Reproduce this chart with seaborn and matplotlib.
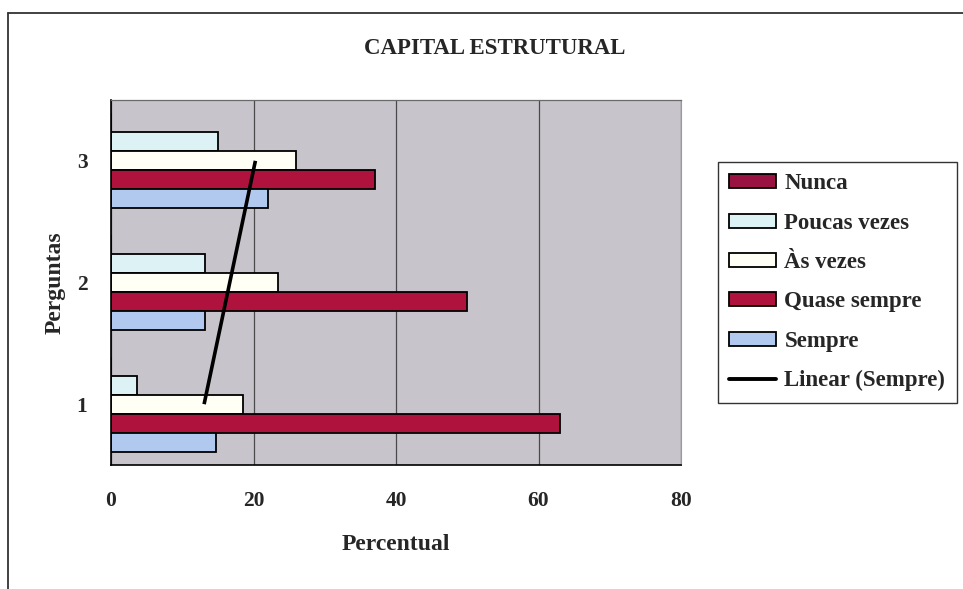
import numpy as np
import pandas as pd
import matplotlib
matplotlib.use("Agg")
import matplotlib.pyplot as plt
from matplotlib.patches import Patch
from matplotlib.lines import Line2D
import seaborn as sns

# Survey results (percent of answers) per question
perguntas = ["1", "2", "3"]
nunca = [0.0, 0.0, 0.0]
poucas_vezes = [3.7, 13.2, 15.0]
as_vezes = [18.5, 23.4, 26.0]
quase_sempre = [63.0, 50.0, 37.0]
sempre = [14.8, 13.2, 22.0]

respostas = ["Nunca", "Poucas vezes", "Às vezes", "Quase sempre", "Sempre"]
series = [nunca, poucas_vezes, as_vezes, quase_sempre, sempre]
cores = {
    "Nunca": "#9a1242",
    "Poucas vezes": "#dcf2f4",
    "Às vezes": "#fffff6",
    "Quase sempre": "#b0123e",
    "Sempre": "#b2c9ef",
}

rows = []
for nome, vals in zip(respostas, series):
    for p, v in zip(perguntas, vals):
        rows.append({"Pergunta": p, "Percentual": v, "Resposta": nome})
df = pd.DataFrame(rows)

sns.set_theme(style="white")
plt.rcParams["font.family"] = ["Liberation Serif", "DejaVu Serif"]
plt.rcParams["font.weight"] = "bold"

fig = plt.figure(figsize=(9.63, 5.89), dpi=100)
fig.patch.set_facecolor("white")
ax = fig.add_axes([111 / 963, 1 - 465 / 589, (681 - 111) / 963, (465 - 100) / 589])
ax.set_facecolor("#c7c5cb")

order = ["3", "2", "1"]
sns.barplot(
    data=df, y="Pergunta", x="Percentual", hue="Resposta",
    order=order, hue_order=respostas, palette=cores, orient="h",
    width=0.78, saturation=1, edgecolor="black", linewidth=1.3,
    legend=False, ax=ax,
)

# Linear trend of "Sempre" against the question number
idx = np.array([int(p) for p in perguntas], dtype=float)
coef = np.polyfit(idx, np.array(sempre), 1)
trend_x = np.polyval(coef, idx)
trend_y = [order.index(p) for p in perguntas]
ax.plot(trend_x, trend_y, color="black", lw=2.6, solid_capstyle="butt", zorder=5)

ax.set_xlim(0, 80)
ax.set_ylim(2.5, -0.5)
ax.set_xticks([0, 20, 40, 60, 80])
ax.set_xticklabels(["0", "20", "40", "60", "80"], fontsize=15.5, fontweight="bold")
ax.tick_params(axis="x", direction="out", length=6, width=1, color="black", pad=13)

ax.set_yticks([-0.5, 0.5, 1.5, 2.5])
ax.set_yticklabels([])
ax.set_yticks(range(len(order)), minor=True)
ax.set_yticklabels(order, minor=True, fontsize=15.5, fontweight="bold")
ax.tick_params(axis="y", which="major", direction="out", length=6, width=1, color="black")
ax.tick_params(axis="y", which="minor", length=0, pad=17)

ax.grid(axis="x", color="#4a4a4a", lw=0.9)
ax.grid(axis="y", visible=False)
ax.set_axisbelow(True)

for s in ["left", "bottom"]:
    ax.spines[s].set_color("black")
    ax.spines[s].set_linewidth(1.2)
ax.spines["top"].set_color("#6a6a6a")
ax.spines["top"].set_linewidth(0.9)
ax.spines["right"].set_color("#9a9a9a")
ax.spines["right"].set_linewidth(0.8)

ax.set_xlabel("Percentual", fontsize=17, fontweight="bold", labelpad=16)
ax.set_ylabel("Perguntas", fontsize=17, fontweight="bold", labelpad=8)

fig.text(495 / 963, 1 - 48 / 589, "CAPITAL ESTRUTURAL", ha="center", va="center",
         fontsize=16.5, fontweight="bold")

handles = [Patch(facecolor=cores[r], edgecolor="black", linewidth=1.3) for r in respostas]
handles.append(Line2D([0], [0], color="black", lw=2.8))
labels = respostas + ["Linear (Sempre)"]
leg = fig.legend(
    handles, labels, loc="upper left", bbox_to_anchor=(718 / 963, 1 - 162 / 589),
    frameon=True, fancybox=False, edgecolor="black", facecolor="white",
    prop={"family": "Liberation Serif", "weight": "bold", "size": 16.5},
    handlelength=2.05, handleheight=0.58, handletextpad=0.35,
    labelspacing=0.8, borderpad=0.5, borderaxespad=0,
)
leg.get_frame().set_linewidth(1.0)

# Outer frame lines of the chart area
fig.add_artist(Line2D([8 / 963, 8 / 963], [0, 1 - 13 / 589], color="#333333", lw=1.3))
fig.add_artist(Line2D([8 / 963, 1], [1 - 13 / 589, 1 - 13 / 589], color="#333333", lw=1.3))

fig.savefig("out.png", dpi=100)
